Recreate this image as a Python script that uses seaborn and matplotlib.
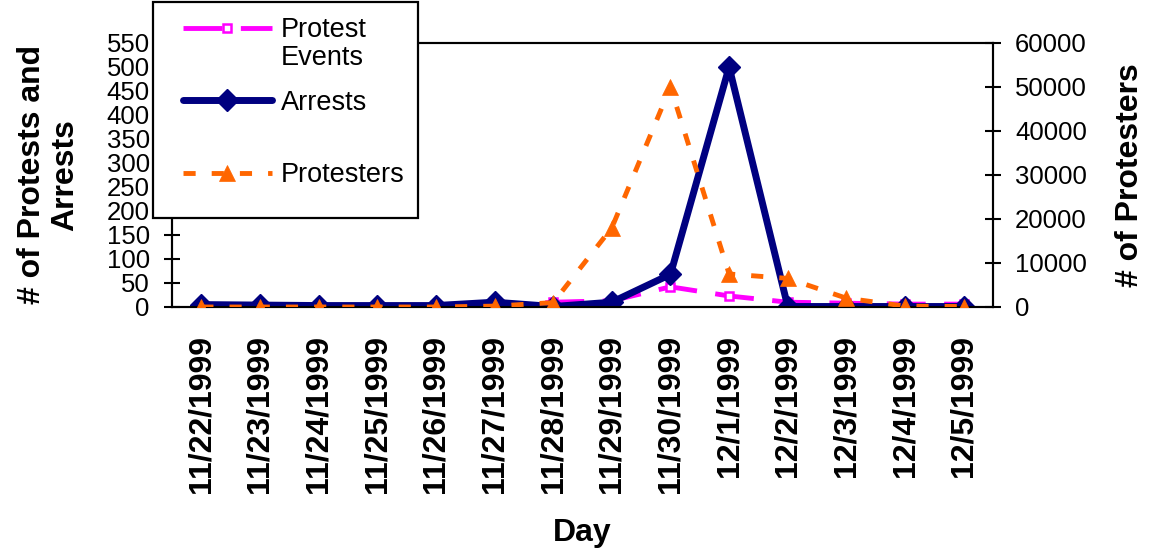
import numpy as np
import pandas as pd
import matplotlib
matplotlib.use("Agg")
import matplotlib.pyplot as plt
from matplotlib.patches import Rectangle
import seaborn as sns

# ---- data ----
days = ["11/22/1999", "11/23/1999", "11/24/1999", "11/25/1999", "11/26/1999",
        "11/27/1999", "11/28/1999", "11/29/1999", "11/30/1999", "12/1/1999",
        "12/2/1999", "12/3/1999", "12/4/1999", "12/5/1999"]
protest_events = [2, 2, 3, 2, 2, 1, 10, 13, 42, 23, 10, 8, 6, 6]
arrests = [5, 4, 3, 3, 3, 10, 1, 10, 68, 500, 1, 1, 1, 1]
protesters = [0, 0, 0, 0, 0, 200, 1000, 18000, 50000, 7500, 6500, 2000, 200, 100]
left_ticks = list(range(0, 551, 50))
right_ticks = list(range(0, 60001, 10000))

df = pd.DataFrame({"pos": np.arange(len(days)), "day": days,
                   "events": protest_events, "arrests": arrests,
                   "protesters": protesters})

sns.set_theme(style="white")
plt.rcParams["font.family"] = ["Liberation Sans", "DejaVu Sans"]
plt.rcParams["axes.edgecolor"] = "black"
plt.rcParams["xtick.color"] = "black"
plt.rcParams["ytick.color"] = "black"
plt.rcParams["xtick.labelcolor"] = "black"
plt.rcParams["ytick.labelcolor"] = "black"
plt.rcParams["text.color"] = "black"
plt.rcParams["axes.labelcolor"] = "black"

W, H = 1149, 552
fig = plt.figure(figsize=(W / 100, H / 100), dpi=100)
ax = fig.add_axes([172 / W, 1 - 307 / H, (993 - 172) / W, (307 - 43) / H])
ax2 = ax.twinx()

MAG, NAVY, ORANGE = "#FF00FF", "#000080", "#FF6600"

sns.lineplot(data=df, x="pos", y="events", ax=ax, sort=False, legend=False,
             color=MAG, linewidth=3.5, linestyle=(0, (8, 3.8)),
             marker="s", markersize=6, markerfacecolor="white",
             markeredgecolor=MAG, markeredgewidth=1.8, zorder=2)
sns.lineplot(data=df, x="pos", y="arrests", ax=ax, sort=False, legend=False,
             color=NAVY, linewidth=5, marker="D", markersize=11.5,
             markerfacecolor=NAVY, markeredgecolor=NAVY, markeredgewidth=1,
             zorder=3)
sns.lineplot(data=df, x="pos", y="protesters", ax=ax2, sort=False, legend=False,
             color=ORANGE, linewidth=3.5, linestyle=(0, (2.5, 3.3)),
             marker="^", markersize=11.5, markerfacecolor=ORANGE,
             markeredgecolor=ORANGE, markeredgewidth=0.5, zorder=3)

ax.set_xlim(-0.5, len(days) - 0.5)
ax.set_ylim(0, 550)
ax2.set_ylim(0, 60000)
ax.set_yticks(left_ticks)
ax2.set_yticks(right_ticks)
ax.set_yticklabels([str(v) for v in left_ticks])
ax2.set_yticklabels([str(v) for v in right_ticks])

ax.set_xticks(df["pos"])
ax.set_xticklabels(days, rotation=90, fontsize=23, fontweight="bold")
ax.set_xticks(np.arange(-0.5, len(days), 1.0), minor=True)
ax.tick_params(axis="x", which="major", length=0, pad=20, labelcolor="black")
ax.tick_params(axis="x", which="minor", length=14, width=1.5, direction="inout")
ax.tick_params(axis="y", direction="inout", length=12, width=1.5, pad=10,
               labelsize=18.5, left=True, labelcolor="black")
ax2.tick_params(axis="y", direction="inout", length=12, width=1.5, pad=10,
                labelsize=18.5, right=True, labelcolor="black")

for a in (ax, ax2):
    for s in a.spines.values():
        s.set_visible(True)
        s.set_color("black")
        s.set_linewidth(1.5)
ax.grid(False)
ax2.grid(False)

ax.set_xlabel("Day", fontsize=23, fontweight="bold", color="black")
ax.xaxis.set_label_coords(0.5, -0.80)
ax.set_ylabel("# of Protests and\nArrests", fontsize=23, fontweight="bold",
              linespacing=1.15, color="black")
ax.yaxis.set_label_coords(-0.112, 0.5)
ax2.set_ylabel("# of Protesters", fontsize=23, fontweight="bold", color="black")
ax2.yaxis.set_label_coords(1.1486, 0.5)

# ---- legend ----
h_ev = ax.lines[0]
h_ar = ax.lines[1]
h_pr = ax2.lines[0]
box = Rectangle((153 / W, 1 - 218 / H), (418 - 153) / W, 216 / H,
                transform=fig.transFigure, facecolor="white",
                edgecolor="black", linewidth=1.6, zorder=4.5)
fig.add_artist(box)
leg = fig.legend([h_ev, h_ar, h_pr], ["Protest", "Arrests", "Protesters"],
                 loc="upper left", bbox_to_anchor=(183 / W, 1 - 17 / H),
                 frameon=False, fontsize=19.5, handlelength=3.28,
                 handletextpad=0.33, labelspacing=1.72, borderpad=0,
                 borderaxespad=0, numpoints=1)
leg.set_zorder(5)
for t in leg.get_texts():
    t.set_color("black")

fig.canvas.draw()
bb = leg.get_texts()[0].get_window_extent()
fig.text(bb.x0 / W, (bb.y0 - 2) / H, "Events", fontsize=19.5, color="black",
         ha="left", va="top", zorder=6)

fig.savefig("out.png", dpi=100, facecolor="white")
